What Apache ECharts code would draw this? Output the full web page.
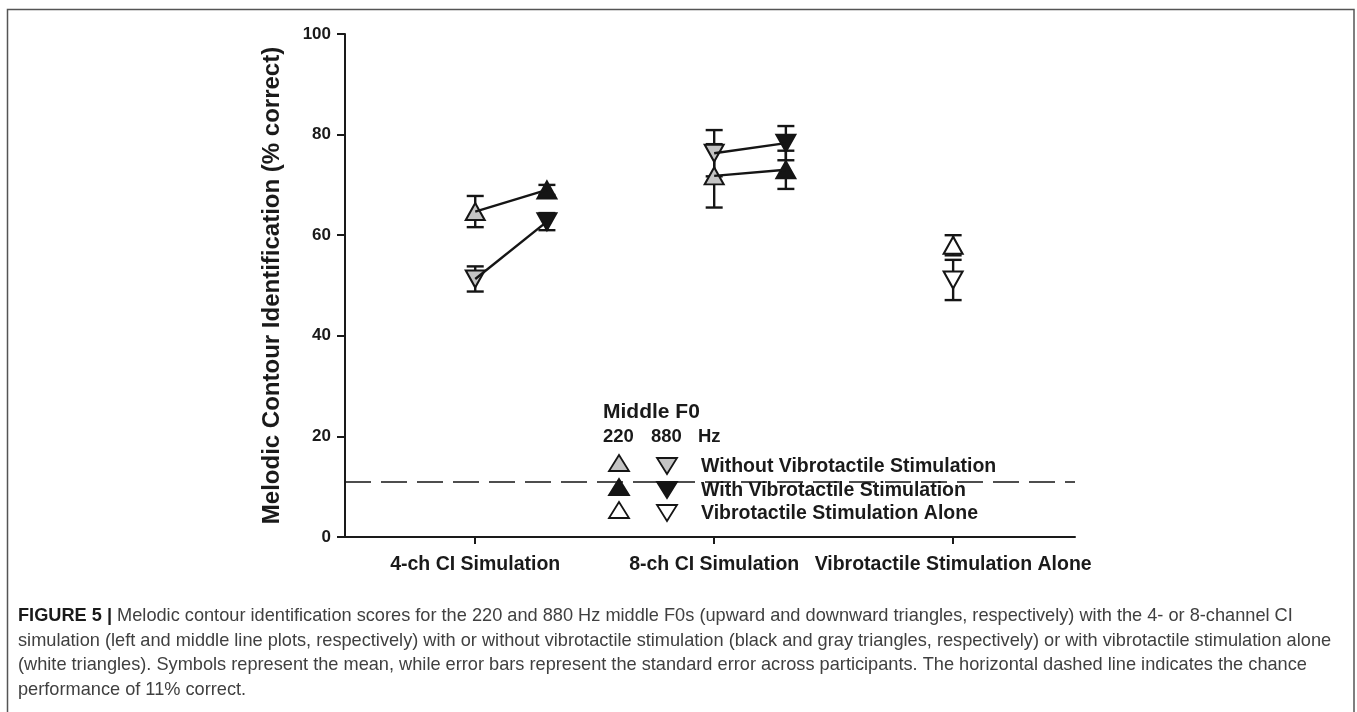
<!DOCTYPE html>
<html>
<head>
<meta charset="utf-8">
<script src="https://cdn.jsdelivr.net/npm/echarts@6/dist/echarts.min.js"></script>
<style>
html,body{margin:0;padding:0;background:#fff;}
#chart{width:1357px;height:712px;}
</style>
</head>
<body>
<div id="chart"></div>
<script>
// ---- data ----
const categories = ['4-ch CI Simulation', '8-ch CI Simulation', 'Vibrotactile Stimulation Alone'];
const yTicks = [0, 20, 40, 60, 80, 100];
// means (% correct) and standard errors, index = category (4-ch, 8-ch)
const withoutVT_220 = [64.7, 71.8];
const withoutVT_220_se = [3.1, 6.3];
const withoutVT_880 = [51.3, 76.3];
const withoutVT_880_se = [2.5, 4.6];
const withVT_220 = [69.0, 73.0];
const withVT_220_se = [1.0, 3.8];
const withVT_880 = [62.7, 78.3];
const withVT_880_se = [1.7, 3.4];
// vibrotactile alone (category 3)
const aloneVT_220 = [58.0];
const aloneVT_220_se = [2.0];
const aloneVT_880 = [51.1];
const aloneVT_880_se = [4.0];
const chanceLevel = 11;

// ---- layout helpers ----
const WITH_OFFSET = 0.3;
const GRAY = '#c4c4c4', BLACK = '#151515', WHITE = '#ffffff';
const FONT = '"Liberation Sans", Arial, sans-serif';

function pts(values, startCat, offset) {
  return values.map((v, i) => [startCat + i + offset, v]);
}
function errPts(values, se, startCat, offset) {
  return values.map((v, i) => [startCat + i + offset, v, se[i]]);
}

const errData = [].concat(
  errPts(withoutVT_220, withoutVT_220_se, 1, 0),
  errPts(withoutVT_880, withoutVT_880_se, 1, 0),
  errPts(withVT_220, withVT_220_se, 1, WITH_OFFSET),
  errPts(withVT_880, withVT_880_se, 1, WITH_OFFSET),
  errPts(aloneVT_220, aloneVT_220_se, 3, 0),
  errPts(aloneVT_880, aloneVT_880_se, 3, 0)
);

function scatter(name, data, fill, down) {
  return {
    name: name, type: 'scatter', data: data, z: 3,
    symbol: 'triangle', symbolSize: [19, 17], symbolRotate: down ? 180 : 0,
    itemStyle: { color: fill, borderColor: BLACK, borderWidth: 2, opacity: 1 },
    emphasis: { disabled: true }
  };
}
function connector(data) {
  return {
    type: 'line', data: data, z: 4, symbol: 'none', silent: true,
    lineStyle: { color: BLACK, width: 2.4 }
  };
}

const series = [
  {
    type: 'custom', name: 'err', z: 2, silent: true,
    data: errData,
    renderItem: function (params, api) {
      const x = api.value(0), m = api.value(1), s = api.value(2);
      const top = api.coord([x, m + s]);
      const bot = api.coord([x, m - s]);
      const hw = 8.5;
      const st = { stroke: BLACK, lineWidth: 2.4 };
      return {
        type: 'group',
        children: [
          { type: 'line', shape: { x1: top[0], y1: top[1], x2: bot[0], y2: bot[1] }, style: st },
          { type: 'line', shape: { x1: top[0] - hw, y1: top[1], x2: top[0] + hw, y2: top[1] }, style: st },
          { type: 'line', shape: { x1: bot[0] - hw, y1: bot[1], x2: bot[0] + hw, y2: bot[1] }, style: st }
        ]
      };
    }
  },
  scatter('Without 220', pts(withoutVT_220, 1, 0), GRAY, false),
  scatter('Without 880', pts(withoutVT_880, 1, 0), GRAY, true),
  scatter('With 220', pts(withVT_220, 1, WITH_OFFSET), BLACK, false),
  scatter('With 880', pts(withVT_880, 1, WITH_OFFSET), BLACK, true),
  scatter('Alone 220', pts(aloneVT_220, 3, 0), WHITE, false),
  scatter('Alone 880', pts(aloneVT_880, 3, 0), WHITE, true)
];
// connecting lines: without -> with, per category and per F0
for (let i = 0; i < withoutVT_220.length; i++) {
  series.push(connector([[1 + i, withoutVT_220[i]], [1 + i + WITH_OFFSET, withVT_220[i]]]));
  series.push(connector([[1 + i, withoutVT_880[i]], [1 + i + WITH_OFFSET, withVT_880[i]]]));
}
// chance line
series.push({
  type: 'line', data: [], silent: true, z: 1,
  markLine: {
    silent: true, symbol: ['none', 'none'], label: { show: false },
    lineStyle: { color: BLACK, width: 1.7, type: [26, 10] },
    data: [{ yAxis: chanceLevel }]
  }
});

// ---- legend (graphic) ----
function tri(cx, cy, down, fill) {
  const w = 20, h = 16;
  const p = down
    ? [[cx - w / 2, cy - h / 2], [cx + w / 2, cy - h / 2], [cx, cy + h / 2]]
    : [[cx - w / 2, cy + h / 2], [cx + w / 2, cy + h / 2], [cx, cy - h / 2]];
  return { type: 'polygon', shape: { points: p }, style: { fill: fill, stroke: BLACK, lineWidth: 1.8 }, silent: true };
}
function txt(x, y, s, size) {
  return {
    type: 'text', x: x, y: y, silent: true,
    style: { text: s, font: 'bold ' + (size || 19.5) + 'px ' + FONT, fill: '#1a1a1a', textVerticalAlign: 'middle' }
  };
}
const legendGraphics = [
  txt(603, 412, 'Middle F0', 21),
  txt(603, 437, '220', 18.5),
  txt(651, 437, '880', 18.5),
  txt(698, 437, 'Hz', 18.5),
  tri(619, 463, false, GRAY), tri(667, 466, true, GRAY),
  txt(701, 467, 'Without Vibrotactile Stimulation'),
  tri(619, 487, false, BLACK), tri(667, 490, true, BLACK),
  txt(701, 491, 'With Vibrotactile Stimulation'),
  tri(619, 510, false, WHITE), tri(667, 513, true, WHITE),
  txt(701, 514, 'Vibrotactile Stimulation Alone')
];

// ---- caption ----
const captionLines = [
  '{b|FIGURE 5 |} Melodic contour identification scores for the 220 and 880 Hz middle F0s (upward and downward triangles, respectively) with the 4- or 8-channel CI',
  'simulation (left and middle line plots, respectively) with or without vibrotactile stimulation (black and gray triangles, respectively) or with vibrotactile stimulation alone',
  '(white triangles). Symbols represent the mean, while error bars represent the standard error across participants. The horizontal dashed line indicates the chance',
  'performance of 11% correct.'
];
const CAP_SIZE = 18.2;
const captionGraphics = captionLines.map((s, i) => ({
  type: 'text', x: 18, y: 616 + i * 24.5, silent: true,
  style: {
    text: s, font: CAP_SIZE + 'px ' + FONT, fill: '#404040', textVerticalAlign: 'middle',
    rich: { b: { font: 'bold ' + CAP_SIZE + 'px ' + FONT, fill: '#1a1a1a' } }
  }
}));

const frame = {
  type: 'polyline', silent: true,
  shape: { points: [[7.5, 720], [7.5, 9.5], [1354, 9.5], [1354, 720]] },
  style: { stroke: '#555', lineWidth: 1.5, fill: 'none' }
};

const chart = echarts.init(document.getElementById('chart'), null, { renderer: 'canvas' });
chart.setOption({
  animation: false,
  backgroundColor: '#fff',
  grid: { left: 345, right: 282, top: 34, bottom: 175, containLabel: false },
  xAxis: {
    type: 'value', min: 0.455, max: 3.51,
    splitLine: { show: false },
    axisLine: { show: true, onZero: false, lineStyle: { color: '#1a1a1a', width: 2 } },
    axisTick: { show: true, customValues: [1, 2, 3], length: 7, lineStyle: { color: '#1a1a1a', width: 2 } },
    axisLabel: {
      customValues: [1, 2, 3], margin: 18,
      formatter: v => categories[Math.round(v) - 1] || '',
      color: '#1a1a1a', fontFamily: FONT, fontWeight: 'bold', fontSize: 19.5
    }
  },
  yAxis: {
    type: 'value', min: 0, max: 100, interval: 20,
    name: 'Melodic Contour Identification (% correct)',
    nameLocation: 'middle', nameGap: 61,
    nameTextStyle: { color: '#1a1a1a', fontFamily: FONT, fontWeight: 'bold', fontSize: 24 },
    splitLine: { show: false },
    axisLine: { show: true, lineStyle: { color: '#1a1a1a', width: 2 } },
    axisTick: { show: true, length: 8, lineStyle: { color: '#1a1a1a', width: 2 } },
    axisLabel: {
      margin: 14, color: '#1a1a1a', fontFamily: FONT, fontWeight: 'bold', fontSize: 17,
      formatter: v => (yTicks.indexOf(v) >= 0 ? String(v) : '')
    }
  },
  series: series,
  graphic: [frame].concat(legendGraphics, captionGraphics)
});
</script>
</body>
</html>
